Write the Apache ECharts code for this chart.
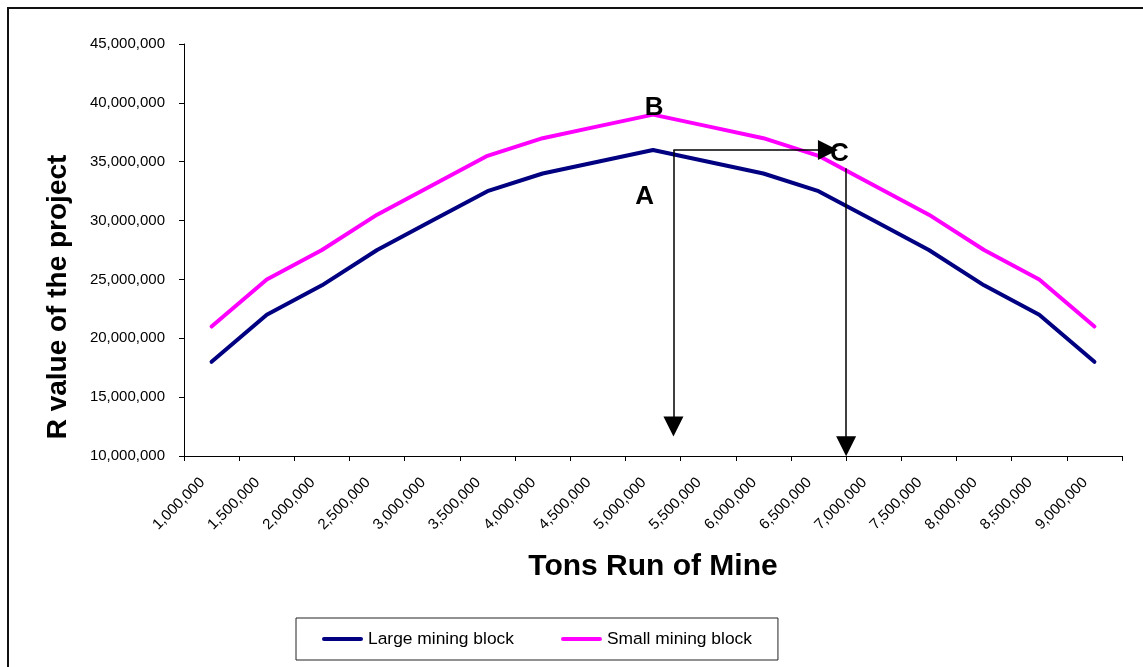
<!DOCTYPE html>
<html>
<head>
<meta charset="utf-8">
<script src="https://cdn.jsdelivr.net/npm/echarts@6/dist/echarts.min.js"></script>
<style>
  html, body { margin: 0; padding: 0; background: #fff; }
  #chart { width: 1143px; height: 667px; }
</style>
</head>
<body>
<div id="chart"></div>
<script>
// Tonnage categories (tons run of mine)
const tonnage = [1000000, 1500000, 2000000, 2500000, 3000000, 3500000, 4000000, 4500000,
  5000000, 5500000, 6000000, 6500000, 7000000, 7500000, 8000000, 8500000, 9000000];

// R value of the project for each mining block size
const largeBlock = [18e6, 22e6, 24.5e6, 27.5e6, 30e6, 32.5e6, 34e6, 35e6, 36e6,
  35e6, 34e6, 32.5e6, 30e6, 27.5e6, 24.5e6, 22e6, 18e6];
const smallBlock = [21e6, 25e6, 27.5e6, 30.5e6, 33e6, 35.5e6, 37e6, 38e6, 39e6,
  38e6, 37e6, 35.5e6, 33e6, 30.5e6, 27.5e6, 25e6, 21e6];

// Y axis range and step
const yMin = 10e6, yMax = 45e6, yStep = 5e6;

// Annotation arrows on a continuous x scale measured in category widths (0..17):
// each entry is [start, arrow-head centre]
const arrowPaths = [
  [[8.87, 36e6], [8.87, 12.5e6]],
  [[8.87, 36e6], [11.67, 36e6]],
  [[12.0, 34.45e6], [12.0, 10.83e6]]
];

// Point letters placed on the same continuous scale
const letterNames = ['A', 'B', 'C'];
const letterX = [8.35, 8.52, 11.88];
const letterY = [32.0e6, 39.55e6, 35.65e6];

const FONT = '"Liberation Sans", Arial, Helvetica, sans-serif';
const fmt = v => Number(v).toLocaleString('en-US');

// Legend swatch: a short bar with rounded ends
const SWATCH = 'path://M2,0 L39,0 A2,2 0 0 1 39,4 L2,4 A2,2 0 0 1 2,0 Z';

const chart = echarts.init(document.getElementById('chart'), null, { renderer: 'canvas' });

chart.setOption({
  animation: false,
  backgroundColor: '#fff',
  graphic: [{
    type: 'rect',
    shape: { x: 8, y: 8, width: 1200, height: 720 },
    style: { fill: 'none', stroke: '#111', lineWidth: 2 },
    z: -1,
    silent: true
  }],
  grid: { left: 184, right: 21, top: 44, bottom: 211 },
  legend: {
    left: 296,
    top: 618,
    orient: 'horizontal',
    padding: [12.5, 26, 12.5, 26],
    itemGap: 47,
    itemWidth: 41,
    itemHeight: 4,
    borderColor: '#222',
    borderWidth: 1,
    textStyle: { fontFamily: FONT, fontSize: 17.4, color: '#000' },
    data: [
      { name: 'Large mining block', icon: SWATCH },
      { name: 'Small mining block', icon: SWATCH }
    ]
  },
  xAxis: [{
    type: 'category',
    data: tonnage,
    boundaryGap: true,
    name: 'Tons Run of Mine',
    nameLocation: 'middle',
    nameGap: 96,
    nameTextStyle: { fontFamily: FONT, fontSize: 30, fontWeight: 'bold', color: '#000' },
    axisLine: { show: true, lineStyle: { color: '#000', width: 1 } },
    axisTick: { show: true, length: 5, lineStyle: { color: '#000' } },
    axisLabel: {
      interval: 0,
      rotate: 45,
      margin: 15,
      padding: [0, 13, 0, 0],
      fontFamily: FONT,
      fontSize: 15,
      color: '#000',
      formatter: v => fmt(v)
    },
    splitLine: { show: false }
  }, {
    type: 'value',
    min: 0,
    max: tonnage.length,
    show: false,
    splitLine: { show: false }
  }],
  yAxis: {
    type: 'value',
    min: yMin,
    max: yMax,
    interval: yStep,
    name: 'R value of the project',
    nameLocation: 'middle',
    nameGap: 112,
    nameTextStyle: {
      fontFamily: FONT, fontSize: 28, fontWeight: 'bold', color: '#000',
      padding: [0, 94, 0, 0]
    },
    axisLine: { show: true, lineStyle: { color: '#000', width: 1 } },
    axisTick: { show: true, length: 5, lineStyle: { color: '#000' } },
    axisLabel: { margin: 19, fontFamily: FONT, fontSize: 15, color: '#000', formatter: v => fmt(v) },
    splitLine: { show: false }
  },
  series: [{
    name: 'Large mining block',
    type: 'line',
    data: largeBlock,
    symbol: 'none',
    color: '#000080',
    lineStyle: { width: 4, color: '#000080', cap: 'round', join: 'round' },
    z: 3
  }, {
    name: 'Small mining block',
    type: 'line',
    data: smallBlock,
    symbol: 'none',
    color: '#ff00ff',
    lineStyle: { width: 4, color: '#ff00ff', cap: 'round', join: 'round' },
    z: 2
  }, {
    name: 'annotations',
    type: 'scatter',
    xAxisIndex: 1,
    yAxisIndex: 0,
    symbolSize: 0,
    z: 5,
    itemStyle: { opacity: 1 },
    data: letterNames.map((n, i) => ({ name: n, value: [letterX[i], letterY[i]] })),
    label: {
      show: true,
      position: 'inside',
      formatter: '{b}',
      fontFamily: FONT,
      fontSize: 26,
      fontWeight: 'bold',
      color: '#000',
      opacity: 1
    },
    markLine: {
      silent: true,
      symbol: ['none', 'triangle'],
      symbolSize: [20, 20],
      label: { show: false },
      lineStyle: { color: '#000', width: 1.5, type: 'solid', opacity: 1 },
      itemStyle: { opacity: 1 },
      emphasis: { disabled: true },
      data: arrowPaths.map(p => [{ coord: p[0] }, { coord: p[1] }])
    }
  }]
});
</script>
</body>
</html>
